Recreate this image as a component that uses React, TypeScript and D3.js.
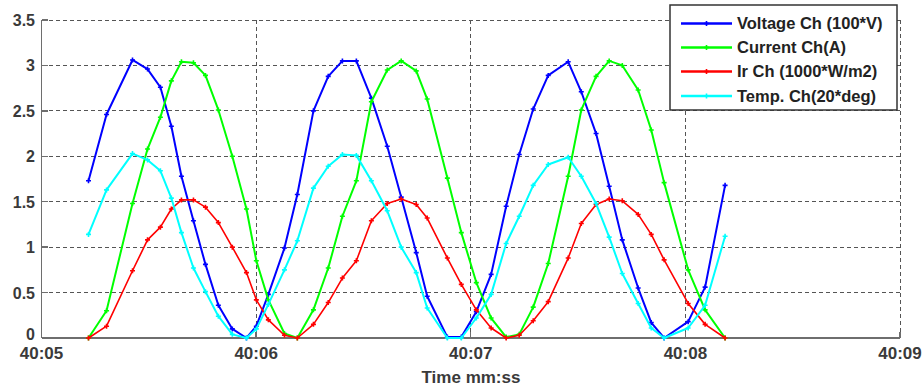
import { useRef, useEffect } from 'react'
import * as d3 from 'd3'

// seconds after 40:05
const times = [
  0.219, 0.303, 0.424, 0.494, 0.554, 0.605, 0.652, 0.708, 0.764, 0.824, 0.889,
  0.955, 1.001, 1.057, 1.132, 1.192, 1.267, 1.336, 1.402, 1.467, 1.537, 1.611,
  1.676, 1.746, 1.797, 1.891, 1.956, 2.026, 2.095, 2.165, 2.226, 2.291, 2.361,
  2.454, 2.515, 2.584, 2.645, 2.706, 2.780, 2.841, 2.901, 3.013, 3.092, 3.185,
]

const voltage = [
  1.73, 2.46, 3.06, 2.96, 2.76, 2.33, 1.78, 1.29, 0.81, 0.36, 0.1,
  0.0, 0.13, 0.48, 0.99, 1.58, 2.50, 2.88, 3.05, 3.05, 2.64, 2.11,
  1.55, 0.94, 0.46, 0.01, 0.01, 0.29, 0.70, 1.45, 2.02, 2.52, 2.89,
  3.04, 2.71, 2.25, 1.67, 1.08, 0.55, 0.17, 0.0, 0.18, 0.56, 1.68,
]

const current = [
  0.0, 0.30, 1.48, 2.08, 2.43, 2.83, 3.04, 3.03, 2.89, 2.51, 2.00,
  1.42, 0.85, 0.42, 0.05, 0.0, 0.31, 0.77, 1.34, 1.73, 2.60, 2.95,
  3.05, 2.94, 2.63, 1.76, 1.16, 0.61, 0.22, 0.01, 0.04, 0.34, 0.82,
  1.78, 2.51, 2.88, 3.05, 3.0, 2.73, 2.29, 1.71, 0.75, 0.31, 0.0,
]

const irradiance = [
  0.0, 0.13, 0.74, 1.08, 1.22, 1.42, 1.52, 1.52, 1.44, 1.27, 1.00,
  0.72, 0.42, 0.20, 0.03, 0.0, 0.15, 0.39, 0.66, 0.85, 1.29, 1.48,
  1.53, 1.47, 1.32, 0.88, 0.59, 0.31, 0.11, 0.0, 0.03, 0.19, 0.40,
  0.88, 1.26, 1.47, 1.53, 1.51, 1.36, 1.14, 0.86, 0.38, 0.15, 0.0,
]

const temperature = [
  1.14, 1.63, 2.03, 1.96, 1.84, 1.54, 1.16, 0.77, 0.51, 0.24, 0.04,
  0.0, 0.1, 0.37, 0.75, 1.07, 1.65, 1.89, 2.02, 2.01, 1.73, 1.40,
  1.0, 0.72, 0.33, 0.0, 0.0, 0.22, 0.48, 1.04, 1.34, 1.68, 1.91,
  1.99, 1.78, 1.48, 1.11, 0.71, 0.38, 0.11, 0.0, 0.11, 0.36, 1.12,
]

const seriesNames = ['Voltage Ch (100*V)', 'Current Ch(A)', 'Ir Ch (1000*W/m2)', 'Temp. Ch(20*deg)']
const seriesColors = ['#0000ff', '#00ff00', '#ff0000', '#00ffff']
const xTicks = [0, 1, 2, 3, 4]
const xTickLabels = ['40:05', '40:06', '40:07', '40:08', '40:09']
const yTicks = [0, 0.5, 1, 1.5, 2, 2.5, 3, 3.5]

export default function App() {
  const svgRef = useRef<SVGSVGElement>(null)

  useEffect(() => {
    if (!svgRef.current) return
    const svg = d3.select(svgRef.current)
    svg.selectAll('*').remove()

    const width = 923
    const height = 387
    const font = '"Liberation Sans", Arial, sans-serif'
    const textColor = '#3a3a3a'

    const x = d3.scaleLinear().domain([0, 4]).range([41.5, 900])
    const y = d3.scaleLinear().domain([0, 3.5]).range([338, 20])

    svg.attr('width', width).attr('height', height)
    svg.append('rect').attr('width', width).attr('height', height).attr('fill', 'white')

    // Grid
    const grid = svg.append('g')
      .attr('stroke', '#555').attr('stroke-width', 1).attr('stroke-dasharray', '4,3')
      .attr('shape-rendering', 'crispEdges')
    grid.selectAll('.hgrid')
      .data(yTicks.filter(d => d > 0))
      .join('line')
      .attr('x1', x(0)).attr('x2', x(4))
      .attr('y1', d => y(d)).attr('y2', d => y(d))
    grid.selectAll('.vgrid')
      .data(xTicks.filter(d => d > 0))
      .join('line')
      .attr('x1', d => x(d)).attr('x2', d => x(d))
      .attr('y1', y(3.5)).attr('y2', y(0))

    // Axes lines
    const axes = svg.append('g').attr('stroke', '#6e6e6e').attr('stroke-width', 1.3)
      .attr('shape-rendering', 'crispEdges')
    axes.append('line').attr('x1', x(0)).attr('x2', x(0)).attr('y1', y(3.5)).attr('y2', y(0))
    axes.append('line').attr('x1', x(0)).attr('x2', x(4)).attr('y1', y(0)).attr('y2', y(0))
    axes.selectAll('.xtick')
      .data(xTicks)
      .join('line')
      .attr('x1', d => x(d)).attr('x2', d => x(d))
      .attr('y1', y(0)).attr('y2', y(0) - 6)
    axes.selectAll('.ytick')
      .data(yTicks)
      .join('line')
      .attr('x1', x(0)).attr('x2', x(0) + 6)
      .attr('y1', d => y(d)).attr('y2', d => y(d))

    // Tick labels
    svg.selectAll('.ylab')
      .data(yTicks)
      .join('text')
      .attr('x', 35).attr('y', d => y(d) + (d === 0 ? 2 : 6))
      .attr('text-anchor', 'end')
      .style('font-family', font).style('font-weight', 'bold').style('font-size', '16px')
      .style('fill', textColor)
      .text(d => String(d))
    svg.selectAll('.xlab')
      .data(xTicks)
      .join('text')
      .attr('x', d => x(d)).attr('y', 359)
      .attr('text-anchor', 'middle')
      .style('font-family', font).style('font-weight', 'bold').style('font-size', '17px')
      .style('fill', textColor)
      .text((_, i) => xTickLabels[i])
    svg.append('text')
      .attr('x', 471).attr('y', 383)
      .attr('text-anchor', 'middle')
      .style('font-family', font).style('font-weight', 'bold').style('font-size', '17px')
      .style('fill', textColor)
      .text('Time mm:ss')

    // Series
    const allSeries = [voltage, current, irradiance, temperature]
    const line = d3.line<number>()
      .x((_, i) => x(times[i]))
      .y(d => y(d))

    allSeries.forEach((vals, si) => {
      const color = seriesColors[si]
      const g = svg.append('g')
      g.append('path')
        .datum(vals)
        .attr('fill', 'none')
        .attr('stroke', color)
        .attr('stroke-width', si === 2 ? 1.6 : 2)
        .attr('stroke-linejoin', 'round')
        .attr('d', line)
      g.selectAll('path.mk')
        .data(vals)
        .join('path')
        .attr('class', 'mk')
        .attr('d', (d, i) => {
          const cx = x(times[i]), cy = y(d)
          return `M${cx - 2.5},${cy}H${cx + 2.5}M${cx},${cy - 2.5}V${cy + 2.5}`
        })
        .attr('stroke', color)
        .attr('stroke-width', 1.6)
    })

    // Legend
    const lg = svg.append('g')
    lg.append('rect')
      .attr('x', 670).attr('y', 5).attr('width', 227).attr('height', 105)
      .attr('fill', 'white').attr('stroke', '#333').attr('stroke-width', 1.5)
    const rowY = [23.5, 47.5, 71.5, 96]
    seriesNames.forEach((name, i) => {
      lg.append('line')
        .attr('x1', 681).attr('x2', 732).attr('y1', rowY[i]).attr('y2', rowY[i])
        .attr('stroke', seriesColors[i]).attr('stroke-width', 2.5)
      lg.append('path')
        .attr('d', `M704,${rowY[i]}h5M706.5,${rowY[i] - 2.5}v5`)
        .attr('stroke', seriesColors[i]).attr('stroke-width', 1.6)
      lg.append('text')
        .attr('x', 737).attr('y', rowY[i] + 5.5)
        .style('font-family', font).style('font-weight', 'bold').style('font-size', '16.5px')
        .style('fill', '#222')
        .text(name)
    })
  }, [])

  return (
    <div style={{ position: 'absolute', left: 0, top: 0 }}>
      <svg ref={svgRef} style={{ display: 'block' }} />
    </div>
  )
}
